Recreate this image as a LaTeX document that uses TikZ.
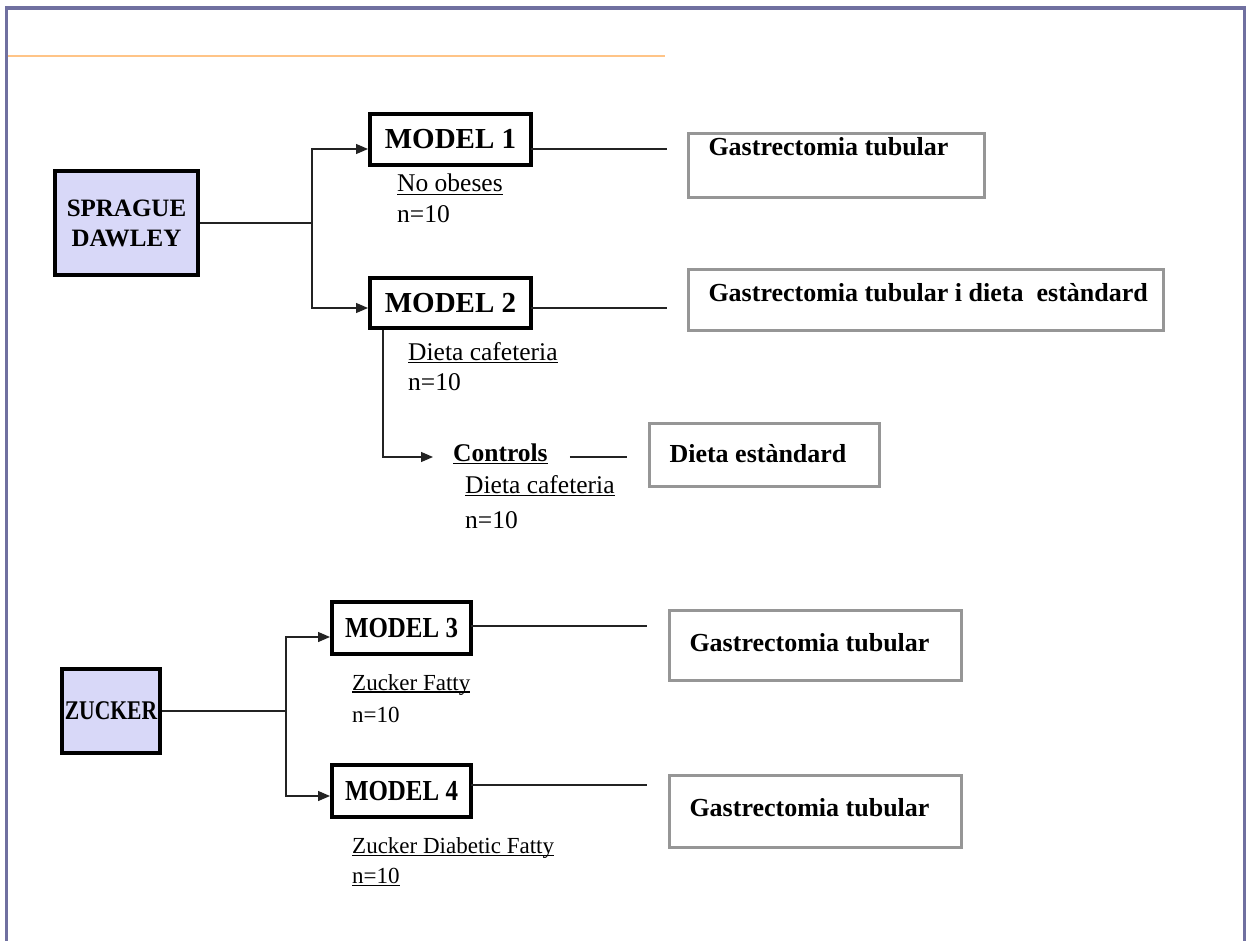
\documentclass[tikz,border=0pt]{standalone}
\usepackage{fontspec}
\setmainfont{Liberation Serif}
\usepackage{graphicx}
\usetikzlibrary{arrows.meta,calc}
\newcommand\myul[1]{\setbox0\hbox{#1}\rlap{\rule[-0.12em]{\wd0}{0.055em}}\box0}
\definecolor{framecol}{RGB}{112,112,160}
\definecolor{orangeline}{RGB}{255,196,135}
\definecolor{lav}{RGB}{216,216,248}
\definecolor{gbord}{RGB}{150,150,150}
\definecolor{linecol}{RGB}{35,35,35}
\begin{document}
\begin{tikzpicture}[x=1pt,y=-1pt,
  conn/.style={line width=1.3pt, draw=linecol},
  arr/.style={conn, -{Triangle[length=12pt,width=10pt]}},
  strain/.style={draw, line width=4pt, fill=lav, inner sep=0pt, align=center, font=\fontsize{25}{30}\selectfont\bfseries},
  model/.style={draw, line width=4pt, fill=white, inner sep=0pt, font=\fontsize{29}{34}\selectfont\bfseries},
  gbox/.style={draw=gbord, line width=3pt, fill=white, inner xsep=20pt, inner ysep=0pt, anchor=north west, font=\fontsize{26}{30}\selectfont\bfseries},
  lbl/.style={anchor=base west, inner sep=0pt, font=\fontsize{25.5}{30}\selectfont},
  zlbl/.style={lbl, font=\fontsize{23}{28}\selectfont},
]
\useasboundingbox (0,0) rectangle (1253,941);
\fill[white] (0,0) rectangle (1253,941);
\draw[framecol, line width=3.5pt] (6.5,945) -- (6.5,8) -- (1244.5,8) -- (1244.5,945);
\draw[orangeline, line width=1.4pt] (8,56) -- (665,56);

% strains
\node[strain, minimum width=143pt, minimum height=104pt] (SD) at (126.5,223) {SPRAGUE\\DAWLEY};
\node[strain, minimum width=98pt, minimum height=84pt] (ZK) at (111,711) {\scalebox{0.8}[1]{\fontsize{27}{30}\selectfont ZUCKER}};

% models
\node[model, minimum width=161pt, minimum height=51pt] (M1) at (450.5,139.5) {MODEL 1};
\node[model, minimum width=161pt, minimum height=50pt] (M2) at (450.5,303) {MODEL 2};
\node[model, minimum width=139pt, minimum height=52pt] (M3) at (401.5,628) {\scalebox{0.86}[1]{MODEL 3}};
\node[model, minimum width=139pt, minimum height=52pt] (M4) at (401.5,791) {\scalebox{0.86}[1]{MODEL 4}};

% treatment boxes
\node[gbox, text height=22.5pt, text depth=41.5pt] (G1) at (687,132) {\makebox[256pt][l]{Gastrectomia tubular}};
\node[gbox, text height=32.5pt, text depth=28.5pt] (G2) at (687,268) {\makebox[435pt][l]{Gastrectomia tubular i dieta\ \ estàndard}};
\node[gbox, text height=40.5pt, text depth=29.5pt] (G3) at (668,609) {\makebox[252pt][l]{Gastrectomia tubular}};
\node[gbox, text height=40.5pt, text depth=31.5pt] (G4) at (668,774) {\makebox[252pt][l]{Gastrectomia tubular}};
\node[gbox, text height=38.5pt, text depth=24.5pt] (DE) at (648,422) {\makebox[190pt][l]{Dieta estàndard}};

% labels
\node[lbl] (L1a) at (397,192) {\myul{No obeses}};
\node[lbl] (L1b) at (397,223) {n=10};
\node[lbl] (L2a) at (408,360) {\myul{Dieta cafeteria}};
\node[lbl] (L2b) at (408,390) {n=10};
\node[lbl, font=\fontsize{25.5}{30}\selectfont\bfseries] (CT) at (453,461) {\myul{Controls}};
\node[lbl] (L3a) at (465,493) {\myul{Dieta cafeteria}};
\node[lbl] (L3b) at (465,528) {n=10};
\node[zlbl] (L4a) at (352,690) {\myul{Zucker Fatty}};
\node[zlbl] (L4b) at (352,722) {n=10};
\node[zlbl] (L5a) at (352,853) {\myul{Zucker Diabetic Fatty}};
\node[zlbl] (L5b) at (352,883) {\myul{n=10}};

% connectors Sprague Dawley
\coordinate (J1) at (312,223);
\draw[conn] (SD.east) -- (J1);
\draw[arr] (J1) |- ($(M1.west)+(0,9.5)$);
\draw[arr] (J1) |- ($(M2.west)+(0,5)$);
\draw[conn] ($(M1.east)+(-2,9.5)$) -- ++(136,0) coordinate (E1);
\draw[conn] ($(M2.east)+(-2,5)$) -- ++(136,0) coordinate (E2);
\coordinate (C1) at (433,457);
\draw[arr] ($(M2.south west)+(15,0)$) |- (C1);
\draw[conn] ($(CT.base east)+(22,-4)$) coordinate (K1) -- ++(57,0) coordinate (K2);

% connectors Zucker
\coordinate (J2) at (286,711);
\draw[conn] (ZK.east) -- (J2);
\draw[arr] (J2) |- ($(M3.west)+(0,9)$);
\draw[arr] (J2) |- ($(M4.west)+(0,5)$);
\draw[conn] ($(M3.east)+(-2,-2)$) -- ++(176,0) coordinate (E3);
\draw[conn] ($(M4.east)+(-2,-6)$) -- ++(176,0) coordinate (E4);
\end{tikzpicture}
\end{document}
